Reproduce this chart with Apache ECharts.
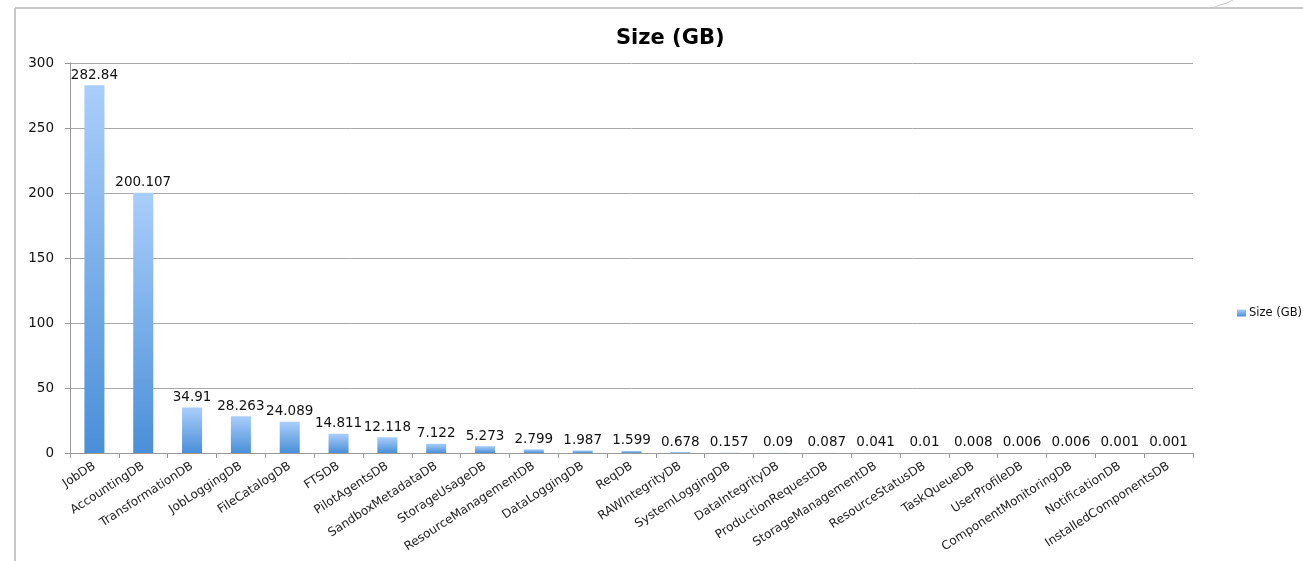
<!DOCTYPE html>
<html>
<head>
<meta charset="utf-8">
<script src="https://cdn.jsdelivr.net/npm/echarts@6/dist/echarts.min.js"></script>
<style>
  html, body { margin: 0; padding: 0; background: #fff; }
  #chart { width: 1303px; height: 561px; }
</style>
</head>
<body>
<div id="chart"></div>
<script>
// Database sizes in GB
const categories = [
  'JobDB', 'AccountingDB', 'TransformationDB', 'JobLoggingDB', 'FileCatalogDB',
  'FTSDB', 'PilotAgentsDB', 'SandboxMetadataDB', 'StorageUsageDB',
  'ResourceManagementDB', 'DataLoggingDB', 'ReqDB', 'RAWIntegrityDB',
  'SystemLoggingDB', 'DataIntegrityDB', 'ProductionRequestDB',
  'StorageManagementDB', 'ResourceStatusDB', 'TaskQueueDB', 'UserProfileDB',
  'ComponentMonitoringDB', 'NotificationDB', 'InstalledComponentsDB'
];
const sizeGB = [
  282.84, 200.107, 34.91, 28.263, 24.089, 14.811, 12.118, 7.122, 5.273,
  2.799, 1.987, 1.599, 0.678, 0.157, 0.09, 0.087, 0.041, 0.01, 0.008,
  0.006, 0.006, 0.001, 0.001
];
const yTicks = [0, 50, 100, 150, 200, 250, 300];

const font = 'DejaVu Sans';
const chart = echarts.init(document.getElementById('chart'));

chart.setOption({
  animation: false,
  backgroundColor: '#ffffff',
  title: {
    text: 'Size (GB)',
    left: 611,
    top: 23,
    textStyle: { fontFamily: font, fontSize: 21, fontWeight: 'bold', color: '#000' }
  },
  legend: {
    data: ['Size (GB)'],
    orient: 'vertical',
    left: 1232,
    top: 302,
    itemWidth: 9,
    itemHeight: 7,
    itemGap: 4,
    icon: 'rect',
    textStyle: { fontFamily: font, fontSize: 11.5, color: '#111', padding: [0, 0, 0, -2] }
  },
  grid: { left: 70, right: 110, top: 63, bottom: 108, containLabel: false },
  xAxis: {
    type: 'category',
    data: categories,
    axisLine: { lineStyle: { color: '#9a9a9a', width: 1 } },
    axisTick: { show: true, length: 5, lineStyle: { color: '#9a9a9a' } },
    axisLabel: {
      rotate: 33,
      interval: 0,
      margin: 12,
      fontFamily: font,
      fontSize: 12.1,
      color: '#222'
    }
  },
  yAxis: {
    type: 'value',
    min: yTicks[0],
    max: yTicks[yTicks.length - 1],
    interval: 50,
    axisLine: { show: true, lineStyle: { color: '#9a9a9a', width: 1 } },
    axisTick: { show: true, length: 5, inside: false, lineStyle: { color: '#9a9a9a' } },
    splitLine: { lineStyle: { color: '#a8a8a8', width: 1 } },
    axisLabel: { fontFamily: font, fontSize: 13.5, color: '#111', margin: 16 }
  },
  series: [{
    name: 'Size (GB)',
    type: 'bar',
    data: sizeGB,
    barWidth: '41%',
    itemStyle: {
      color: new echarts.graphic.LinearGradient(0, 0, 0, 1, [
        { offset: 0, color: '#aacefb' },
        { offset: 1, color: '#4a8fd8' }
      ])
    },
    label: {
      show: true,
      position: 'top',
      distance: 3,
      fontFamily: font,
      fontSize: 13.5,
      color: '#111'
    }
  }],
  graphic: [
    // outer frame of the chart sheet
    { type: 'line', shape: { x1: 15, y1: 8, x2: 1303, y2: 8 }, style: { stroke: '#c8c8c8', lineWidth: 2 } },
    { type: 'line', shape: { x1: 15, y1: 8, x2: 15, y2: 561 }, style: { stroke: '#c8c8c8', lineWidth: 2 } },
    { type: 'polyline', shape: { points: [[1212, 8], [1220, 5], [1227, 3], [1233, 0]] }, style: { stroke: '#c8c8c8', lineWidth: 1, fill: null } }
  ]
});
</script>
</body>
</html>
